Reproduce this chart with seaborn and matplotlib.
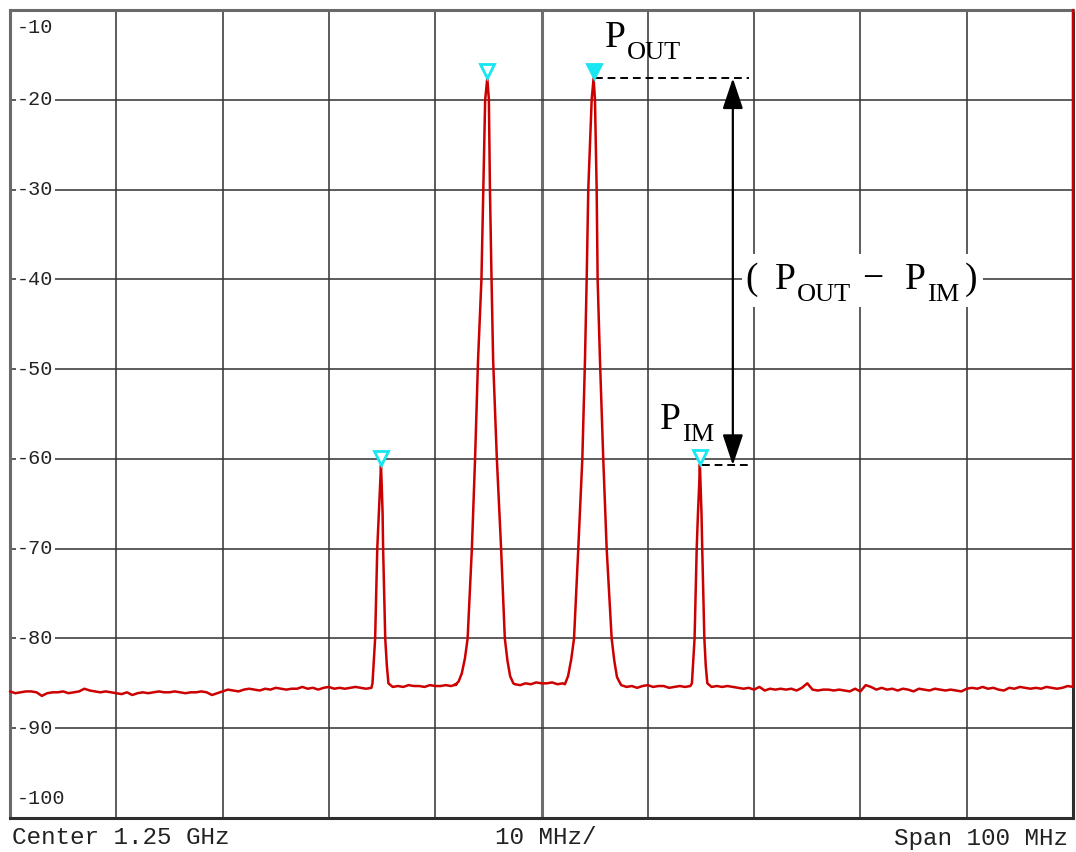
import numpy as np
import pandas as pd
import matplotlib
matplotlib.use("Agg")
import matplotlib.pyplot as plt
import matplotlib.transforms as mtransforms
from matplotlib.patches import Rectangle
import seaborn as sns

# ---------------------------------------------------------------- data
# Spectrum-analyser sweep, frequency in MHz, level in dBm
start_mhz, stop_mhz = 1200.0, 1300.0
ref_top, ref_bottom = -10.0, -100.0
level_ticks = [-10, -20, -30, -40, -50, -60, -70, -80, -90, -100]
freq_grid = [1210, 1220, 1230, 1240, 1250, 1260, 1270, 1280, 1290]

# noise floor segments (0.5 MHz bins)
floor_a_start, floor_a = 1200.0, [
    -85.9, -86.1, -86.0, -85.9, -85.9, -86.0, -86.4, -86.1, -86.0, -86.0,
    -85.9, -86.1, -86.0, -85.9, -85.6, -85.8, -85.9, -86.0, -85.9, -86.0,
    -86.1, -86.2, -86.0, -86.3, -86.1, -86.0, -86.1, -86.0, -85.9, -86.0,
    -86.0, -85.9, -86.0, -86.1, -86.0, -86.0, -85.9, -86.0, -86.3, -86.1,
    -85.9, -85.7, -85.8, -85.9, -85.7, -85.6, -85.7, -85.8, -85.6, -85.7,
    -85.5, -85.6, -85.7, -85.6, -85.6, -85.4, -85.6, -85.5, -85.7, -85.5,
    -85.4, -85.6, -85.5, -85.6, -85.5, -85.4, -85.5, -85.6, -85.5]
floor_b_start, floor_b = 1236.0, [
    -85.4, -85.3, -85.4, -85.2, -85.3, -85.3, -85.4, -85.2, -85.3, -85.3,
    -85.2, -85.3, -85.1]
floor_c_start, floor_c = 1247.5, [
    -85.1, -85.2, -85.0, -85.1, -84.9, -85.0, -85.0, -84.9, -85.1, -85.0]
floor_d_start, floor_d = 1257.5, [
    -85.2, -85.4, -85.3, -85.5, -85.3, -85.2, -85.4, -85.3, -85.3, -85.5,
    -85.4, -85.3, -85.4, -85.3]
floor_e_start, floor_e = 1266.0, [
    -85.4, -85.3, -85.4, -85.3, -85.4, -85.5, -85.6, -85.5, -85.7, -85.4,
    -85.8, -85.6, -85.7, -85.6, -85.7, -85.6, -85.8, -85.5, -85.0, -85.7,
    -85.8, -85.7, -85.7, -85.8, -85.7, -85.8, -85.9, -85.6, -85.9, -85.2,
    -85.4, -85.7, -85.5, -85.7, -85.6, -85.8, -85.6, -85.7, -85.9, -85.6,
    -85.7, -85.8, -85.6, -85.7, -85.8, -85.7, -85.8, -85.9, -85.6, -85.5,
    -85.6, -85.4, -85.6, -85.5, -85.7, -85.8, -85.5, -85.6, -85.4, -85.5,
    -85.6, -85.5, -85.6, -85.4, -85.5, -85.6, -85.5, -85.3, -85.4]
floor_step = 0.5

# lower third-order product (2*f1 - f2)
im_low_freq = [1234.10, 1234.20, 1234.35, 1234.45, 1234.55, 1234.70, 1234.82,
               1234.90, 1234.97, 1235.05, 1235.10, 1235.20, 1235.30, 1235.45,
               1235.60]
im_low_level = [-85.0, -83.0, -80.0, -75.0, -70.0, -66.0, -63.0,
                -60.7, -63.0, -66.0, -70.0, -75.0, -80.0, -83.0,
                -85.0]

# carrier f1
tone1_freq = [1241.85, 1242.20, 1242.50, 1242.80, 1243.05, 1243.45, 1243.75,
              1244.03, 1244.35, 1244.52, 1244.70, 1244.90, 1245.05, 1245.15,
              1245.30, 1245.45, 1245.80, 1246.20, 1246.55, 1246.80, 1247.05,
              1247.35]
tone1_level = [-85.2, -84.8, -83.9, -82.2, -80.0, -70.0, -60.0,
               -49.0, -40.0, -30.0, -20.0, -17.6, -20.0, -30.0,
               -40.0, -49.0, -60.0, -70.0, -80.0, -82.5, -84.2,
               -85.0]

# carrier f2
tone2_freq = [1252.20, 1252.50, 1252.80, 1253.06, 1253.46, 1253.84, 1254.09,
              1254.25, 1254.40, 1254.72, 1254.90, 1255.03, 1255.19, 1255.28,
              1255.50, 1255.81, 1256.13, 1256.60, 1256.85, 1257.10, 1257.40]
tone2_level = [-85.1, -84.2, -82.3, -80.0, -70.0, -60.0, -49.0,
               -40.0, -30.0, -20.0, -17.6, -20.0, -30.0, -40.0,
               -49.0, -60.0, -70.0, -80.0, -82.5, -84.3, -85.0]

# upper third-order product (2*f2 - f1)
im_high_freq = [1264.15, 1264.25, 1264.40, 1264.50, 1264.60, 1264.72, 1264.83,
                1264.90, 1264.97, 1265.05, 1265.12, 1265.22, 1265.32, 1265.45,
                1265.60]
im_high_level = [-85.0, -83.0, -80.0, -75.0, -70.0, -66.0, -63.0,
                 -60.6, -63.0, -66.0, -70.0, -75.0, -80.0, -83.0,
                 -85.0]

# retrace at the end of the sweep
sweep_end_freq = [1300.0]
sweep_end_level = [-10.0]

# peak markers
marker_freq = [1234.9, 1244.9, 1254.9, 1264.9]
marker_level = [-60.7, -17.6, -17.6, -60.6]
marker_filled = [False, False, True, False]

p_out = -17.6
p_im = -60.7
delta_freq = 1268.0
dash_end_freq = 1269.5

footer_left = "Center 1.25 GHz"
footer_mid = "10 MHz/"
footer_right = "Span 100 MHz"


def floor_segment(start, values):
    freqs = start + floor_step * np.arange(len(values))
    return list(freqs), list(values)


segments = [
    floor_segment(floor_a_start, floor_a),
    (im_low_freq, im_low_level),
    floor_segment(floor_b_start, floor_b),
    (tone1_freq, tone1_level),
    floor_segment(floor_c_start, floor_c),
    (tone2_freq, tone2_level),
    floor_segment(floor_d_start, floor_d),
    (im_high_freq, im_high_level),
    floor_segment(floor_e_start, floor_e),
    (sweep_end_freq, sweep_end_level),
]
trace = pd.DataFrame({
    "freq": np.concatenate([s[0] for s in segments]),
    "level": np.concatenate([s[1] for s in segments]),
})

# ---------------------------------------------------------------- style
sns.set_theme(style="white")
plt.rcParams["font.family"] = ["Liberation Mono", "DejaVu Sans Mono"]
SERIF = ["Liberation Serif", "DejaVu Serif"]

fig = plt.figure(figsize=(10.76, 8.52), dpi=100, facecolor="white")
ax = fig.add_axes([10 / 1076, 1 - 818 / 852, 1063 / 1076, 808 / 852])
ax.set_facecolor("white")

ax.set_xlim(start_mhz, stop_mhz)
ax.set_ylim(ref_bottom, ref_top)
ax.set_xticks([])
ax.set_yticks([])

# graticule
grid_color = "#383838"
for f in freq_grid:
    if f == 1250:
        ax.axvline(f, color="#6e6e6e", lw=2.2, zorder=1)
    else:
        ax.axvline(f, color=grid_color, lw=1.15, zorder=1)
for lv in level_ticks[1:-1]:
    ax.axhline(lv, color=grid_color, lw=1.15, zorder=1)

for side, sp in ax.spines.items():
    sp.set_visible(True)
    sp.set_color("#2e2e2e" if side in ("bottom", "right") else "#6a6a6a")
    sp.set_linewidth(2.2)
    sp.set_zorder(2)

# level labels drawn inside the graticule
lbl_trans = mtransforms.blended_transform_factory(ax.transAxes, ax.transData)
for lv in level_ticks:
    if lv == level_ticks[0]:
        ypos = lv - 1.9
    elif lv == level_ticks[-1]:
        ypos = lv + 2.2
    else:
        ypos = lv
    ax.text(0.0066, ypos, f"-{abs(lv)}", transform=lbl_trans,
            ha="left", va="center", fontsize=14.5, color="#222222",
            bbox=dict(facecolor="white", edgecolor="none", pad=1.0),
            zorder=2.2)

# sweep trace
sns.lineplot(data=trace, x="freq", y="level", ax=ax, sort=False,
             estimator=None, color="#cc0000", lw=1.8, zorder=4,
             legend=False)
ax.lines[-1].set_clip_on(False)
ax.set_xlabel("")
ax.set_ylabel("")

# peak markers, sitting just above each peak
mk_trans = ax.transData + mtransforms.ScaledTranslation(0, 5.5 / 72,
                                                         fig.dpi_scale_trans)
for f, lv, filled in zip(marker_freq, marker_level, marker_filled):
    ax.plot([f], [lv], marker="v", markersize=9.5, linestyle="none",
            markerfacecolor="#18e6f0" if filled else "white",
            markeredgecolor="#18e6f0", markeredgewidth=2.0,
            transform=mk_trans, zorder=6, clip_on=False)

# reference dashes
dash = (0, (4, 2.5))
ax.plot([marker_freq[2] + 0.1, dash_end_freq], [p_out, p_out], color="black",
        lw=1.4, ls=dash, zorder=5)
ax.plot([marker_freq[3] + 0.2, dash_end_freq], [p_im, p_im], color="black",
        lw=1.4, ls=dash, zorder=5)

# double arrow spanning P_OUT - P_IM
ax.annotate("", xy=(delta_freq, p_out), xytext=(delta_freq, p_im),
            arrowprops=dict(arrowstyle="<|-|>,head_length=1.35,head_width=0.45",
                            mutation_scale=14, color="black", lw=1.6,
                            shrinkA=0, shrinkB=0), zorder=5)

BIG, SMALL = 27, 19


def serif_text(x, y, s, size=BIG):
    return ax.text(x, y, s, fontsize=size, family=SERIF, ha="left",
                   va="baseline", color="black", zorder=8)


def power_symbol(x, y, sub):
    """Draw P with a lowered subscript."""
    p = serif_text(x, y, "P")
    ax.annotate(sub, xy=(1, 0), xycoords=p, xytext=(0.6, -2.8),
                textcoords="offset points", fontsize=SMALL, family=SERIF,
                ha="left", va="baseline", color="black", zorder=8)


power_symbol(1256.0, -14.1, "OUT")
power_symbol(1261.15, -56.7, "IM")

# difference label on a white patch over the graticule
ax.add_patch(Rectangle((1268.85, -43.1), 22.7, 5.9, facecolor="white",
                       edgecolor="none", zorder=6))
diff_base = -41.1
serif_text(1269.14, diff_base, "(")
power_symbol(1271.97, diff_base, "OUT")
serif_text(1280.15, diff_base, "\u2212")
power_symbol(1284.2, diff_base, "IM")
serif_text(1289.84, diff_base, ")")

# footer annotations
foot_y = 1 - 838 / 852
fig.text(12 / 1076, foot_y, footer_left, ha="left", va="center",
         fontsize=17.5, color="#222222")
fig.text(546 / 1076, foot_y, footer_mid, ha="center", va="center",
         fontsize=17.5, color="#222222")
fig.text(1068 / 1076, foot_y, footer_right, ha="right", va="center",
         fontsize=17.5, color="#222222")

fig.savefig("out.png", dpi=100, facecolor="white")
